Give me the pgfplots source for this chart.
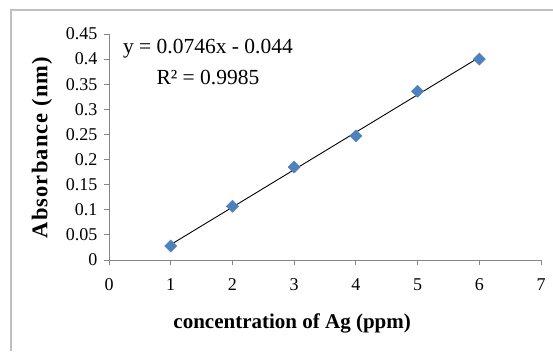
\documentclass[border=0pt]{standalone}
\usepackage{fontspec}
\setmainfont{Liberation Serif}
\usepackage{pgfplots}
\pgfplotsset{compat=1.18}
\definecolor{markblue}{HTML}{4F81BD}
\definecolor{axgray}{HTML}{868686}
\definecolor{framegray}{HTML}{BFBFBF}
\begin{document}
\begin{tikzpicture}[x=1pt,y=1pt]
\useasboundingbox (0pt,0pt) rectangle (553pt,351pt);
\draw[framegray, line width=2pt] (11pt,0pt) -- (11pt,341pt) -- (553pt,341pt);
\begin{axis}[
  at={(109pt,91pt)}, anchor=south west,
  scale only axis, width=432pt, height=226pt,
  xmin=0, xmax=7, ymin=0, ymax=0.45,
  axis x line*=bottom, axis y line*=left,
  axis line style={axgray, line width=0.8pt},
  tick align=outside, major tick length=5pt,
  tick style={axgray, line width=0.8pt},
  xtick={0,1,2,3,4,5,6,7},
  ytick={0,0.05,0.1,0.15,0.2,0.25,0.3,0.35,0.4,0.45},
  yticklabels={0,0.05,0.1,0.15,0.2,0.25,0.3,0.35,0.4,0.45},
  xticklabels={0,1,2,3,4,5,6,7},
  ticklabel style={font=\fontsize{18}{18}\selectfont},
  xticklabel style={yshift=-10pt},
  yticklabel style={xshift=-3pt},
  xlabel={\textbf{concentration of Ag (ppm)}},
  ylabel={\textbf{\addfontfeature{LetterSpace=5}Absorbance (nm)}},
  xlabel style={at={(axis description cs:0.424,-0.279)}, anchor=center, font=\fontsize{21}{22}\selectfont},
  ylabel style={at={(axis description cs:-0.155,0.5)}, anchor=center, font=\fontsize{22.5}{23}\selectfont},
  clip=false,
]
\addplot[only marks, mark=square*, mark size=4.3pt,
  mark options={rotate=45, fill=markblue, draw=markblue}]
  coordinates {(1,0.028) (2,0.107) (3,0.185) (4,0.247) (5,0.336) (6,0.400)};
\addplot[black, line width=0.9pt, no marks]
  coordinates {(1,0.0306) (6,0.4036)};
\node[align=center, font=\fontsize{21.5}{31}\selectfont, inner sep=0pt]
  at (axis description cs:0.229,0.878) {y = 0.0746x - 0.044\\R² = 0.9985};
\end{axis}
\end{tikzpicture}
\end{document}
